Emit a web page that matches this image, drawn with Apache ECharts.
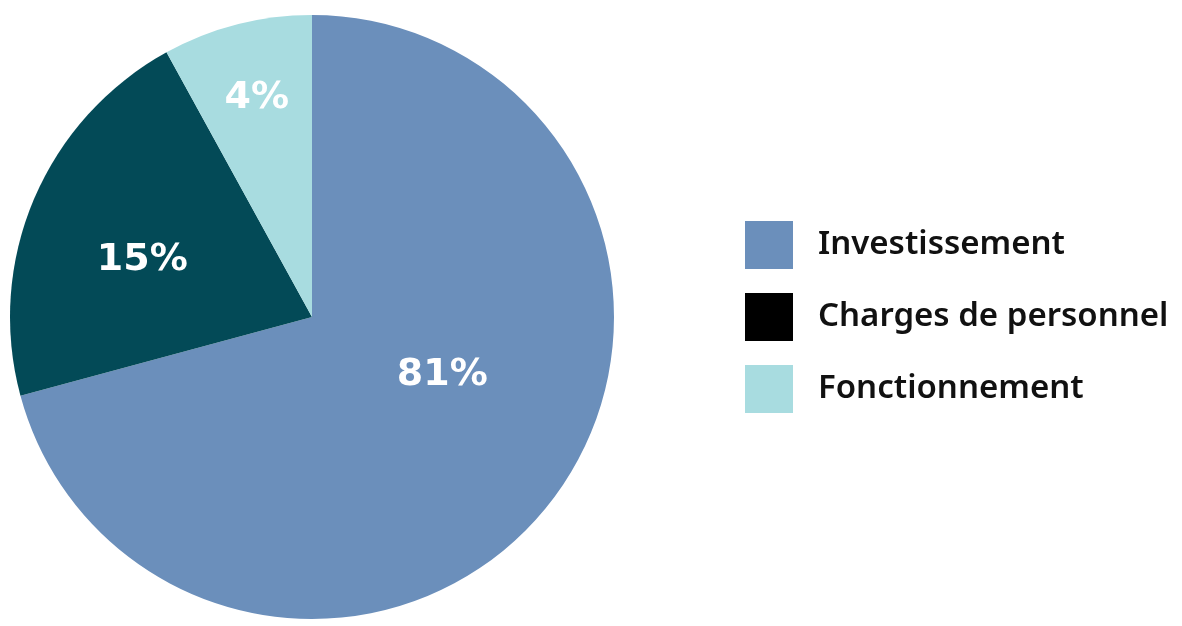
<!DOCTYPE html>
<html>
<head>
<meta charset="utf-8">
<script src="https://cdn.jsdelivr.net/npm/echarts@6/dist/echarts.min.js"></script>
<style>
  html, body { margin: 0; padding: 0; background: #fff; }
  #main { width: 1182px; height: 626px; }
</style>
</head>
<body>
<div id="main"></div>
<script>
// categories + values (slice sizes as drawn) + printed labels
var categories = ['Investissement', 'Charges de personnel', 'Fonctionnement'];
var values = [70.8, 21.2, 8.0];
var pctLabels = ['81%', '15%', '4%'];
var sliceColors = ['#6B8FBB', '#034A57', '#A8DCE0'];
var legendColors = ['#6B8FBB', '#000000', '#A8DCE0'];

// nudges for the labels inside the slices
var labelShift = [[8, -35], [-28, 3], [-17, -70]];

var myChart = echarts.init(document.getElementById('main'));

var pieData = categories.map(function (name, i) {
    return { name: name, value: values[i], itemStyle: { color: sliceColors[i] } };
});

var legendData = categories.map(function (name, i) {
    return { name: name, itemStyle: { color: legendColors[i] } };
});

var option = {
    animation: false,
    legend: {
        orient: 'vertical',
        left: 740,
        top: 216,
        icon: 'rect',
        itemWidth: 48,
        itemHeight: 48,
        itemGap: 24,
        selectedMode: false,
        data: legendData,
        textStyle: {
            fontFamily: 'Noto Sans',
            fontWeight: 600,
            fontSize: 33,
            color: '#111',
            padding: [4, 0, 0, 20]
        }
    },
    series: [{
        type: 'pie',
        center: [312, 317],
        radius: 302,
        startAngle: 90,
        clockwise: true,
        silent: true,
        label: {
            position: 'inside',
            formatter: function (p) { return pctLabels[p.dataIndex]; },
            fontFamily: 'DejaVu Sans',
            fontWeight: 'bold',
            fontSize: 38,
            color: '#fff'
        },
        labelLayout: function (p) {
            return { dx: labelShift[p.dataIndex][0], dy: labelShift[p.dataIndex][1] };
        },
        labelLine: { show: false },
        data: pieData
    }]
};

myChart.setOption(option);
</script>
</body>
</html>
